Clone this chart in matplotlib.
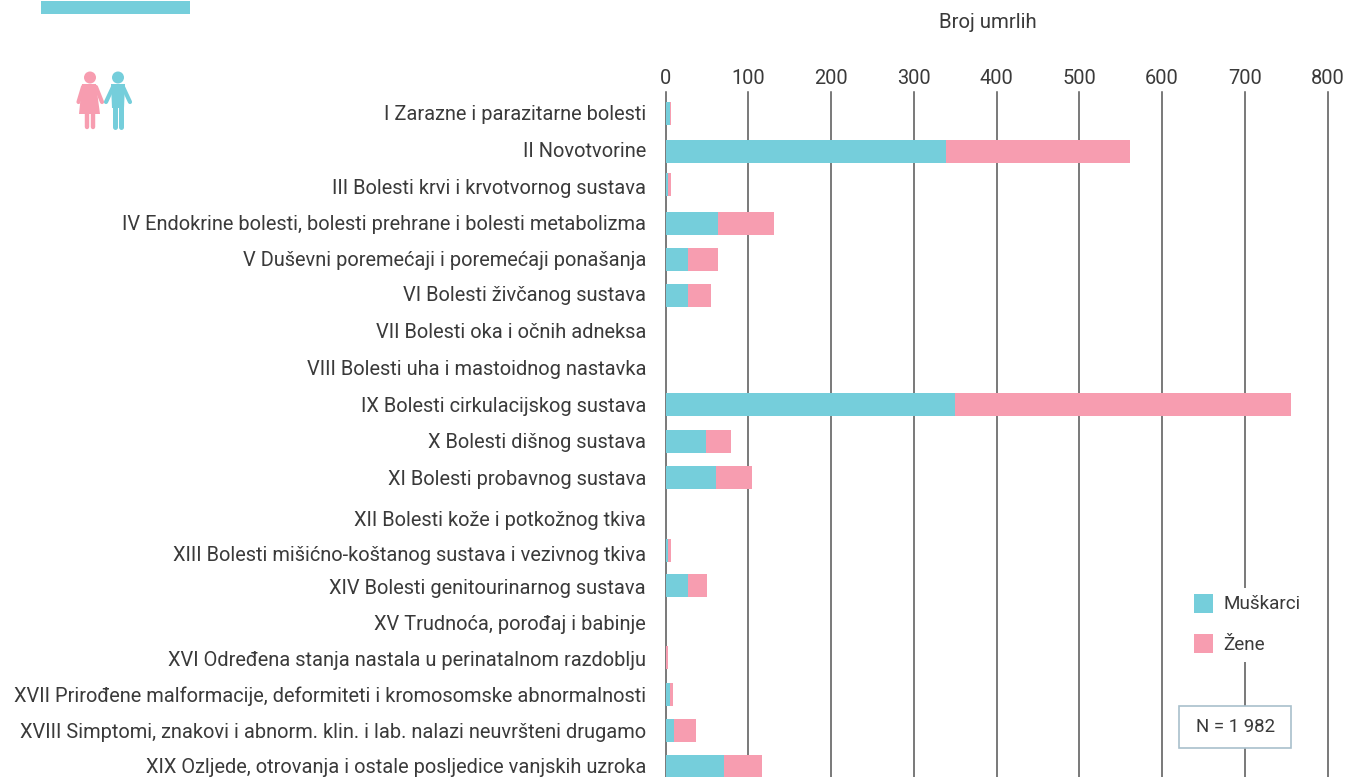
#!/usr/bin/env python3
"""Broj umrlih po skupinama bolesti i spolu - horizontal stacked bars."""
import matplotlib
matplotlib.use("Agg")
import matplotlib.pyplot as plt
from matplotlib.patches import Circle, Polygon, Rectangle

plt.rcParams["font.family"] = ["Roboto", "DejaVu Sans"]

categories = [
    "I Zarazne i parazitarne bolesti",
    "II Novotvorine",
    "III Bolesti krvi i krvotvornog sustava",
    "IV Endokrine bolesti, bolesti prehrane i bolesti metabolizma",
    "V Duševni poremećaji i poremećaji ponašanja",
    "VI Bolesti živčanog sustava",
    "VII Bolesti oka i očnih adneksa",
    "VIII Bolesti uha i mastoidnog nastavka",
    "IX Bolesti cirkulacijskog sustava",
    "X Bolesti dišnog sustava",
    "XI Bolesti probavnog sustava",
    "XII Bolesti kože i potkožnog tkiva",
    "XIII Bolesti mišićno-koštanog sustava i vezivnog tkiva",
    "XIV Bolesti genitourinarnog sustava",
    "XV Trudnoća, porođaj i babinje",
    "XVI Određena stanja nastala u perinatalnom razdoblju",
    "XVII Prirođene malformacije, deformiteti i kromosomske abnormalnosti",
    "XVIII Simptomi, znakovi i abnorm. klin. i lab. nalazi neuvršteni drugamo",
    "XIX Ozljede, otrovanja i ostale posljedice vanjskih uzroka",
]
muskarci = [5, 339, 3, 63, 27, 27, 0, 0, 350, 49, 61, 0, 3, 27, 0, 1, 5, 10, 71]
zene = [2, 222, 4, 68, 36, 28, 0, 0, 406, 30, 44, 0, 4, 23, 0, 2, 4, 27, 46]
xticks = [0, 100, 200, 300, 400, 500, 600, 700, 800]

# rows in the source are not evenly spaced, so keep pixel rows for bars and labels
bar_rows = [113.5, 151.5, 184.5, 223.5, 259.5, 295.5, 331, 367, 404.5, 441.5,
            477.5, 519, 551, 585.5, 622, 657.5, 694.5, 730.5, 766.5]
label_rows = [112.3, 149.3, 186.3, 222.3, 258.3, 293.3, 330.3, 367.3, 404.3, 440.3,
              477.3, 518.3, 553.3, 586.3, 622.3, 658.3, 694.3, 730.3, 765.3]

W, H = 1348, 777
TEAL = "#75CEDB"
PINK = "#F79DB0"
TXT = "#3a3a3a"
FS = 14.4

fig = plt.figure(figsize=(W / 100, H / 100), dpi=100)
x0, x1, ytop = 665.5, 1327.5, 92
ax = fig.add_axes([x0 / W, 0, (x1 - x0) / W, (H - ytop) / H])
ax.set_xlim(0, 800)
ax.set_ylim(H, ytop)

ax.barh(bar_rows, muskarci, height=23, color=TEAL, zorder=3, label="Muškarci")
ax.barh(bar_rows, zene, left=muskarci, height=23, color=PINK, zorder=3, label="Žene")

for s in ax.spines.values():
    s.set_visible(False)
ax.xaxis.tick_top()
ax.set_xticks(xticks)
ax.set_xticklabels([str(t) for t in xticks], fontsize=FS, color=TXT)
ax.tick_params(axis="x", length=0, pad=3)
ax.set_yticks(label_rows)
ax.set_yticklabels(categories, fontsize=FS, color=TXT)
ax.tick_params(axis="y", length=0, pad=14)
ax.grid(axis="x", color="#555555", lw=1.1, zorder=1, clip_on=False)
ax.set_axisbelow(True)

# overlay in pixel coordinates for the decoration
ov = fig.add_axes([0, 0, 1, 1], facecolor="none")
ov.set_xlim(0, W)
ov.set_ylim(H, 0)
ov.axis("off")

ov.add_patch(Rectangle((41, 1), 149, 13, color=TEAL, lw=0))
ov.text(987.5, 22, "Broj umrlih", fontsize=14.7, color=TXT, ha="center", va="center")

# woman
ov.add_patch(Circle((90, 77.5), 6, color=PINK, lw=0))
ov.add_patch(Polygon([(82, 84), (96, 84), (100, 114), (79, 114)], color=PINK, lw=0))
ov.plot([83, 78.5], [87, 102], color=PINK, lw=3, solid_capstyle="round")
ov.plot([96, 102], [87, 102], color=PINK, lw=3, solid_capstyle="round")
ov.plot([87, 87], [112, 127], color=PINK, lw=3.2, solid_capstyle="round")
ov.plot([93, 93], [112, 127], color=PINK, lw=3.2, solid_capstyle="round")
# man
ov.add_patch(Circle((118, 77.5), 6, color=TEAL, lw=0))
ov.add_patch(Polygon([(111, 84), (125, 84), (124, 108), (112, 108)], color=TEAL, lw=0))
ov.plot([113, 106], [87, 102], color=TEAL, lw=3, solid_capstyle="round")
ov.plot([123, 130], [87, 102], color=TEAL, lw=3, solid_capstyle="round")
ov.plot([115, 115], [106, 127], color=TEAL, lw=3.6, solid_capstyle="round")
ov.plot([121, 121], [106, 127], color=TEAL, lw=3.6, solid_capstyle="round")

# legend block hides the gridline behind it
ov.add_patch(Rectangle((1185, 588), 125, 74, color="white", lw=0, zorder=2))
ov.add_patch(Rectangle((1194, 594), 19, 19, color=TEAL, lw=0, zorder=3))
ov.add_patch(Rectangle((1194, 634), 19, 19, color=PINK, lw=0, zorder=3))
ov.text(1223.5, 604, "Muškarci", fontsize=13.6, color=TXT, va="center", zorder=3)
ov.text(1223.5, 645, "Žene", fontsize=13.6, color=TXT, va="center", zorder=3)

ov.add_patch(Rectangle((1178.5, 705.5), 112, 42, facecolor="white",
                       edgecolor="#A9C0CC", lw=1.2, zorder=2))
ov.text(1235.5, 727.5, "N = 1 982", fontsize=13.4, color=TXT, ha="center", va="center", zorder=3)

fig.savefig("out.png", dpi=100)
